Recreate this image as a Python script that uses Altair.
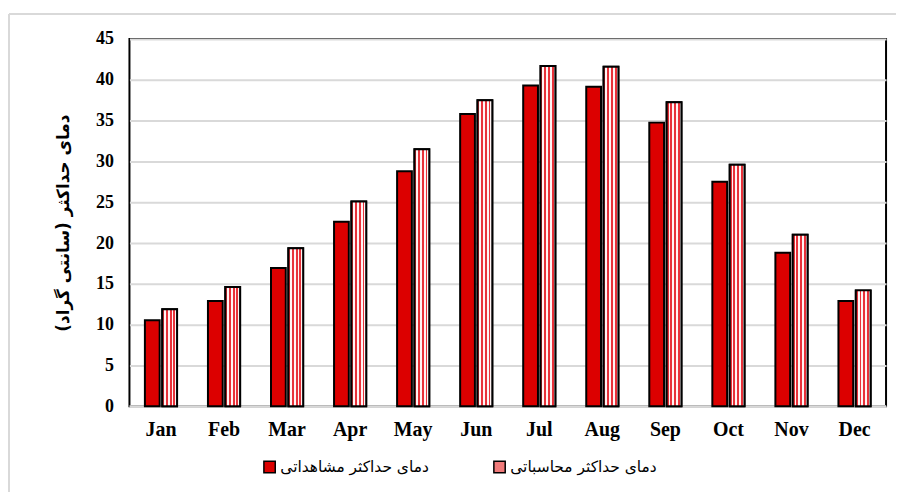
import altair as alt
import pandas as pd

months = ["Jan", "Feb", "Mar", "Apr", "May", "Jun", "Jul", "Aug", "Sep", "Oct", "Nov", "Dec"]
observed = [10.55, 12.9, 16.95, 22.6, 28.8, 35.8, 39.3, 39.15, 34.75, 27.5, 18.8, 12.9]
calculated = [11.9, 14.6, 19.35, 25.1, 31.5, 37.5, 41.7, 41.6, 37.25, 29.6, 21.0, 14.2]

obs_name = "دمای حداکثر مشاهداتی"
calc_name = "دمای حداکثر محاسباتی"
series = [obs_name, calc_name]
y_title = "\u200fدمای حداکثر (سانتی گراد)\u200f"
y_ticks = [0, 5, 10, 15, 20, 25, 30, 35, 40, 45]

rows = []
for m, o, c in zip(months, observed, calculated):
    rows.append({"month": m, "series": obs_name, "value": o})
    rows.append({"month": m, "series": calc_name, "value": c})
df = pd.DataFrame(rows)

RED = "#dc0000"
GRID = "#d9d9d9"

# stripe gradient to imitate the dotted pattern
stops = []
n = 8
for k in range(n):
    col = "#e8323a" if k % 2 == 0 else "#fff4f4"
    stops.append(alt.GradientStop(offset=k / n, color=col))
    stops.append(alt.GradientStop(offset=(k + 1) / n, color=col))
pattern = alt.LinearGradient(gradient="linear", stops=stops, x1=0, x2=1, y1=0, y2=0)

x_enc = alt.X("month:N", sort=months,
              scale=alt.Scale(paddingInner=0.49, paddingOuter=0.245),
              axis=alt.Axis(title=None, labelAngle=0, labelFont="Liberation Serif",
                            labelFontWeight="bold", labelFontSize=20, labelColor="#000",
                            labelPadding=13, ticks=False, domain=False, grid=False))
xoff_enc = alt.XOffset("series:N", sort=series,
                       scale=alt.Scale(domain=series, paddingInner=0.15))
y_enc = alt.Y("value:Q", scale=alt.Scale(domain=[0, 45], nice=False),
              axis=alt.Axis(title=y_title, values=y_ticks, labelFont="Liberation Serif",
                            labelFontWeight="bold", labelFontSize=18, labelColor="#000",
                            labelPadding=16, ticks=False, domain=False,
                            gridColor=GRID, gridWidth=2,
                            titleFont="DejaVu Sans", titleFontWeight="bold",
                            titleFontSize=17, titleColor="#000", titlePadding=23))

base = alt.Chart(df)

bars = base.mark_bar(stroke="#000", strokeWidth=2).encode(
    x=x_enc,
    xOffset=xoff_enc,
    y=y_enc,
    color=alt.Color("series:N", sort=series,
                    scale=alt.Scale(domain=series, range=[RED, "#f07a7a"]),
                    legend=alt.Legend(title=None, orient="none", direction="horizontal",
                                      legendX=133, legendY=422,
                                      symbolType="square", symbolSize=130,
                                      symbolStrokeColor="#000", symbolStrokeWidth=1.5,
                                      labelFont="DejaVu Sans", labelFontSize=15.5,
                                      labelLimit=400, labelOffset=3,
                                      labelColor="#000", columnPadding=62,
                                      symbolOpacity=1)),
)

calc_bars = base.transform_filter(alt.datum.series == calc_name).mark_bar(
    fill=pattern, stroke="#000", strokeWidth=2
).encode(x=x_enc, xOffset=xoff_enc, y="value:Q")

zero_rule = alt.Chart(pd.DataFrame({"v": [0]})).mark_rule(color=GRID, strokeWidth=2).encode(
    y="v:Q")

outer_left = alt.Chart(pd.DataFrame({"v": [0]})).mark_rule(color=GRID, strokeWidth=2).encode(
    x=alt.value(-121), y=alt.value(-25), y2=alt.value(470))
outer_top = alt.Chart(pd.DataFrame({"v": [0]})).mark_rule(color=GRID, strokeWidth=2).encode(
    x=alt.value(-121), x2=alt.value(800), y=alt.value(-25))

chart = alt.layer(zero_rule, bars, calc_bars, outer_left, outer_top).properties(
    width=760, height=369,
    autosize=alt.AutoSizeParams(type="none"),
    padding={"left": 122, "top": 30, "right": 10, "bottom": 85},
).configure_view(stroke="#000", strokeWidth=2)

chart.save("out.html", embed_options={"renderer": "svg", "actions": False})
